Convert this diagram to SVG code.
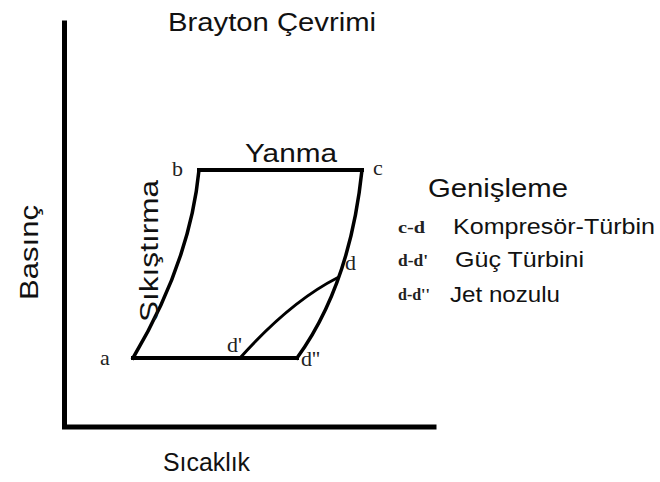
<svg xmlns="http://www.w3.org/2000/svg" width="660" height="482" viewBox="0 0 660 482">
<style>
.s{font-family:"Liberation Sans",Arial,sans-serif;fill:#111}
.t{font-family:"Liberation Serif","Times New Roman",serif;fill:#222}
.ln{fill:none;stroke:#000;stroke-linecap:square;stroke-linejoin:miter}
</style>
<rect width="660" height="482" fill="#fff"/>
<g id="axes">
<path class="ln" d="M64.5,23 V427 H434" stroke-width="5"/>
</g>
<g id="connectors">
<path class="ln" d="M133,358 H297" stroke-width="4"/>
<path class="ln" d="M199,170 H362" stroke-width="4"/>
<path class="ln" d="M133,358 Q190,262 199,170" stroke-width="3.5"/>
<path class="ln" d="M362,170 Q350,285 297,358" stroke-width="3.5"/>
<path class="ln" d="M337,278 Q290,302 240,358" stroke-width="3"/>
</g>
<g id="title"><text class="s" x="168" y="31" font-size="25" textLength="208" lengthAdjust="spacingAndGlyphs">Brayton Çevrimi</text></g>
<g id="yanma"><text class="s" x="245" y="162" font-size="25" textLength="92" lengthAdjust="spacingAndGlyphs">Yanma</text></g>
<g id="sikistirma"><text class="s" transform="translate(158,322) rotate(-90)" font-size="25" textLength="142" lengthAdjust="spacingAndGlyphs">Sıkıştırma</text></g>
<g id="basinc"><text class="s" transform="translate(38,300) rotate(-90)" font-size="25" textLength="95" lengthAdjust="spacingAndGlyphs">Basınç</text></g>
<g id="sicaklik"><text class="s" x="163" y="471" font-size="25" textLength="87" lengthAdjust="spacingAndGlyphs">Sıcaklık</text></g>
<g id="node-a"><text class="t" x="100" y="365" font-size="22">a</text></g>
<g id="node-b"><text class="t" x="172" y="176" font-size="22">b</text></g>
<g id="node-c"><text class="t" x="373" y="175" font-size="22">c</text></g>
<g id="node-d"><text class="t" x="345" y="270" font-size="22">d</text></g>
<g id="node-d1"><text class="t" x="227" y="352" font-size="22">d'</text></g>
<g id="node-d2"><text class="t" x="301" y="366" font-size="22">d''</text></g>
<g id="legend">
<text class="s" x="428" y="197" font-size="25" textLength="140" lengthAdjust="spacingAndGlyphs">Genişleme</text>
<text class="t" x="398" y="233" font-size="17" font-weight="bold" textLength="27" lengthAdjust="spacingAndGlyphs">c-d</text>
<text class="s" x="453" y="234" font-size="22" textLength="202" lengthAdjust="spacingAndGlyphs">Kompresör-Türbin</text>
<text class="t" x="398" y="266" font-size="17" font-weight="bold" textLength="30" lengthAdjust="spacingAndGlyphs">d-d'</text>
<text class="s" x="455" y="267" font-size="22" textLength="129" lengthAdjust="spacingAndGlyphs">Güç Türbini</text>
<text class="t" x="398" y="300" font-size="17" font-weight="bold" textLength="32" lengthAdjust="spacingAndGlyphs">d-d''</text>
<text class="s" x="450" y="302" font-size="22" textLength="110" lengthAdjust="spacingAndGlyphs">Jet nozulu</text>
</g>
</svg>
